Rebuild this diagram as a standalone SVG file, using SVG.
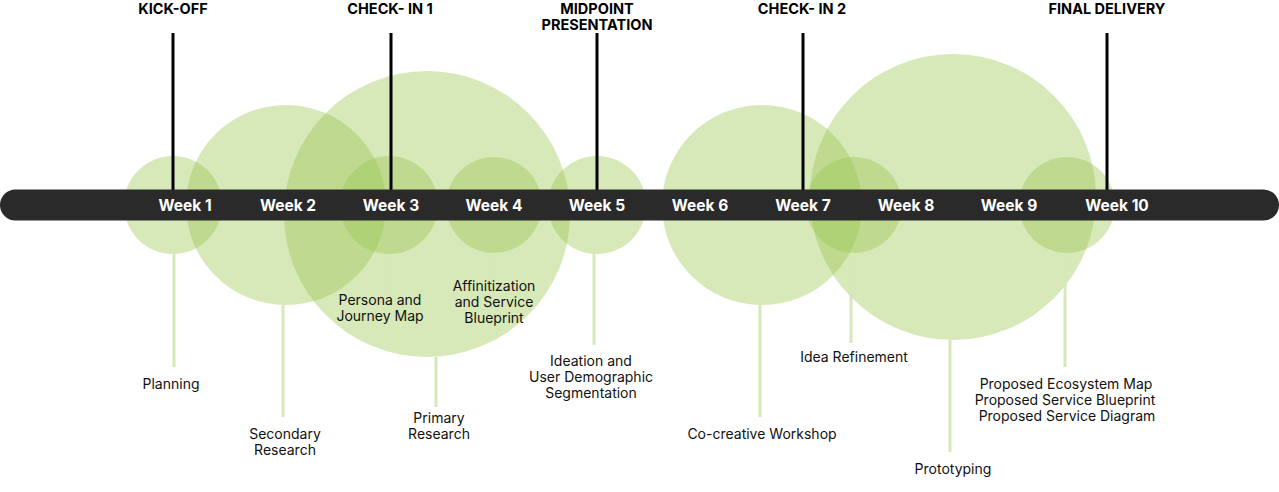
<svg xmlns="http://www.w3.org/2000/svg" width="1279" height="492" viewBox="0 0 1279 492">
<style>
.c{fill:#9bc550;fill-opacity:0.4}
.stem{stroke:#d6e8b8;stroke-width:3;fill:none}
.ms{stroke:#000;stroke-width:3;fill:none}
.lbl{font-family:Inter,"Liberation Sans",sans-serif;font-size:14px;fill:#111;text-anchor:middle;letter-spacing:0px}
.wk{font-family:Inter,"Liberation Sans",sans-serif;font-size:15.5px;font-weight:700;fill:#fff;text-anchor:middle;letter-spacing:0px}
.hd{font-family:Inter,"Liberation Sans",sans-serif;font-size:14.5px;font-weight:700;fill:#000;text-anchor:middle;letter-spacing:0px}
</style>
<rect width="1279" height="492" fill="#fff"/>
<g id="circles">
<circle id="c-planning" class="c" cx="173" cy="205" r="49"/>
<circle id="c-secondary" class="c" cx="286" cy="205" r="100"/>
<circle id="c-primary" class="c" cx="427" cy="214" r="143"/>
<circle id="c-persona" class="c" cx="389" cy="205" r="49"/>
<circle id="c-affinity" class="c" cx="494" cy="205" r="48"/>
<circle id="c-ideation" class="c" cx="597" cy="205" r="49"/>
<circle id="c-workshop" class="c" cx="762" cy="205" r="100"/>
<circle id="c-prototyping" class="c" cx="953" cy="197" r="143"/>
<circle id="c-refinement" class="c" cx="854" cy="205" r="48"/>
<circle id="c-proposed" class="c" cx="1067" cy="205" r="48"/>
</g>
<g id="connectors">
<line class="stem" x1="174" y1="254" x2="174" y2="367"/>
<line class="stem" x1="283" y1="305" x2="283" y2="417"/>
<line class="stem" x1="436" y1="357" x2="436" y2="407"/>
<line class="stem" x1="385" y1="254" x2="385" y2="290"/>
<line class="stem" x1="494" y1="253" x2="494" y2="278"/>
<line class="stem" x1="594" y1="254" x2="594" y2="345"/>
<line class="stem" x1="760" y1="305" x2="760" y2="417"/>
<line class="stem" x1="851" y1="253" x2="851" y2="343"/>
<line class="stem" x1="950" y1="340" x2="950" y2="452"/>
<line class="stem" x1="1065" y1="253" x2="1065" y2="367"/>
<line class="ms" x1="173" y1="33" x2="173" y2="192"/>
<line class="ms" x1="391" y1="33" x2="391" y2="192"/>
<line class="ms" x1="597" y1="33" x2="597" y2="192"/>
<line class="ms" x1="803" y1="33" x2="803" y2="192"/>
<line class="ms" x1="1107" y1="33" x2="1107" y2="192"/>
</g>
<g id="timeline">
<rect x="0" y="189.5" width="1279" height="31" rx="15.5" fill="#2a2a2a"/>
<text class="wk" x="185" y="211">Week 1</text>
<text class="wk" x="288" y="211">Week 2</text>
<text class="wk" x="391" y="211">Week 3</text>
<text class="wk" x="494" y="211">Week 4</text>
<text class="wk" x="597" y="211">Week 5</text>
<text class="wk" x="700" y="211">Week 6</text>
<text class="wk" x="803" y="211">Week 7</text>
<text class="wk" x="906" y="211">Week 8</text>
<text class="wk" x="1009" y="211">Week 9</text>
<text class="wk" x="1117" y="211">Week 10</text>
</g>
<g id="milestone-kickoff"><text class="hd" x="173" y="13.5">KICK-OFF</text></g>
<g id="milestone-checkin1"><text class="hd" x="390" y="13.5">CHECK- IN 1</text></g>
<g id="milestone-midpoint"><text class="hd" x="597" y="13.5">MIDPOINT</text><text class="hd" x="597" y="29.5">PRESENTATION</text></g>
<g id="milestone-checkin2"><text class="hd" x="802" y="13.5">CHECK- IN 2</text></g>
<g id="milestone-final"><text class="hd" x="1107" y="13.5">FINAL DELIVERY</text></g>
<g id="node-planning"><text class="lbl" x="171" y="389">Planning</text></g>
<g id="node-secondary"><text class="lbl" x="285" y="439">Secondary</text><text class="lbl" x="285" y="455">Research</text></g>
<g id="node-primary"><text class="lbl" x="439" y="423">Primary</text><text class="lbl" x="439" y="439">Research</text></g>
<g id="node-persona"><text class="lbl" x="380" y="305">Persona and</text><text class="lbl" x="380" y="321">Journey Map</text></g>
<g id="node-affinity"><text class="lbl" x="494" y="291">Affinitization</text><text class="lbl" x="494" y="307">and Service</text><text class="lbl" x="494" y="323">Blueprint</text></g>
<g id="node-ideation"><text class="lbl" x="591" y="366">Ideation and</text><text class="lbl" x="591" y="382">User Demographic</text><text class="lbl" x="591" y="398">Segmentation</text></g>
<g id="node-workshop"><text class="lbl" x="762" y="439">Co-creative Workshop</text></g>
<g id="node-refinement"><text class="lbl" x="854" y="362">Idea Refinement</text></g>
<g id="node-prototyping"><text class="lbl" x="953" y="474">Prototyping</text></g>
<g id="node-proposed"><text class="lbl" x="1066" y="389">Proposed Ecosystem Map</text><text class="lbl" x="1065" y="405">Proposed Service Blueprint</text><text class="lbl" x="1067" y="421">Proposed Service Diagram</text></g>
</svg>
